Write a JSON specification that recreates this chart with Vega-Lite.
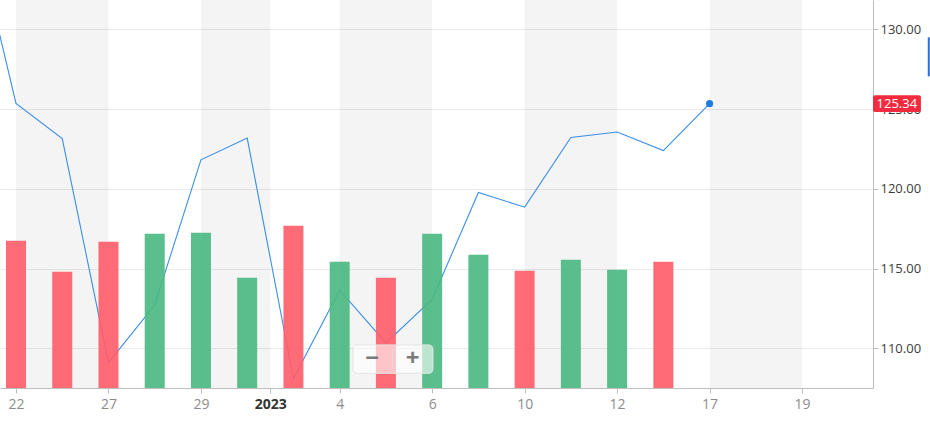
{
  "$schema": "https://vega.github.io/schema/vega-lite/v6.json",
  "width": 873,
  "height": 388,
  "padding": {"left": 0, "top": 0, "right": 57, "bottom": 34},
  "autosize": {"type": "none"},
  "background": "white",
  "config": {"view": {"stroke": null}, "font": "Open Sans", "scale": {"continuousPadding": 0}},
  "datasets": {
    "prices": [
      {"i": -1, "close": 137.57},
      {"i": 0, "close": 125.35},
      {"i": 1, "close": 123.15},
      {"i": 2, "close": 109.10},
      {"i": 3, "close": 112.71},
      {"i": 4, "close": 121.82},
      {"i": 5, "close": 123.18},
      {"i": 6, "close": 108.10},
      {"i": 7, "close": 113.64},
      {"i": 8, "close": 110.34},
      {"i": 9, "close": 113.06},
      {"i": 10, "close": 119.77},
      {"i": 11, "close": 118.85},
      {"i": 12, "close": 123.22},
      {"i": 13, "close": 123.56},
      {"i": 14, "close": 122.40},
      {"i": 15, "close": 125.34}
    ],
    "volume": [
      {"i": 0, "vol": 210.6, "dir": "down"},
      {"i": 1, "vol": 166.3, "dir": "down"},
      {"i": 2, "vol": 209.2, "dir": "down"},
      {"i": 3, "vol": 220.6, "dir": "up"},
      {"i": 4, "vol": 222.1, "dir": "up"},
      {"i": 5, "vol": 157.7, "dir": "up"},
      {"i": 6, "vol": 232.1, "dir": "down"},
      {"i": 7, "vol": 180.6, "dir": "up"},
      {"i": 8, "vol": 157.7, "dir": "down"},
      {"i": 9, "vol": 220.6, "dir": "up"},
      {"i": 10, "vol": 190.6, "dir": "up"},
      {"i": 11, "vol": 167.7, "dir": "down"},
      {"i": 12, "vol": 183.5, "dir": "up"},
      {"i": 13, "vol": 169.2, "dir": "up"},
      {"i": 14, "vol": 180.6, "dir": "down"}
    ],
    "bands": [
      {"s": 0, "e": 2},
      {"s": 4, "e": 5.5},
      {"s": 7, "e": 9},
      {"s": 11, "e": 13},
      {"s": 15, "e": 17}
    ],
    "last": [{"i": 15, "close": 125.34, "label": "125.34"}]
  },
  "resolve": {"scale": {"y": "independent"}},
  "layer": [
    {
      "layer": [
        {
          "data": {"name": "bands"},
          "mark": {"type": "rect", "fill": "#000000", "fillOpacity": 0.042},
          "encoding": {
            "x": {"field": "s", "type": "quantitative", "scale": {"domain": [-0.346, 18.534], "nice": false, "zero": false, "padding": 0},
              "axis": {
                "values": [0, 2, 4, 5.5, 7, 9, 11, 13, 15, 17],
                "labelExpr": "{'0':'22','2':'27','4':'29','5.5':'2023','7':'4','9':'6','11':'10','13':'12','15':'17','17':'19'}[datum.value + '']",
                "grid": false,
                "domainColor": "#bdbdbd",
                "tickColor": "#bdbdbd",
                "tickSize": 5,
                "labelFontSize": 14,
                "labelPadding": 4,
                "labelColor": {"condition": {"test": "datum.value == 5.5", "value": "#333333"}, "value": "#8c8c8c"},
                "labelFontWeight": {"condition": {"test": "datum.value == 5.5", "value": "bold"}, "value": "normal"},
                "labelOverlap": false,
                "labelFlush": false,
                "title": null
              }},
            "x2": {"field": "e"}
          }
        },
        {
          "data": {"name": "prices"},
          "mark": {"type": "line", "stroke": "#3a8ee8", "strokeWidth": 1.1, "clip": true},
          "encoding": {
            "x": {"field": "i", "type": "quantitative", "title": null, "scale": {"domain": [-0.346, 18.534], "nice": false, "zero": false, "padding": 0}},
            "y": {"field": "close", "type": "quantitative", "scale": {"domain": [107.51, 131.84], "nice": false, "zero": false},
              "axis": {
                "orient": "right",
                "values": [110, 115, 120, 125, 130],
                "format": ".2f",
                "grid": true,
                "gridColor": "#ebebeb",
                "domainColor": "#bdbdbd",
                "tickColor": "#bdbdbd",
                "tickSize": 5,
                "labelFontSize": 13,
                "labelColor": "#3c3c3c",
                "labelPadding": 2,
                "title": null
              }}
          }
        }
      ]
    },
    {
      "data": {"name": "volume"},
      "mark": {"type": "bar", "size": 20, "opacity": 0.9},
      "encoding": {
        "x": {"field": "i", "type": "quantitative", "title": null, "scale": {"domain": [-0.346, 18.534], "nice": false, "zero": false, "padding": 0}},
        "y": {"field": "vol", "type": "quantitative", "scale": {"domain": [0, 554.8], "nice": false}, "axis": null},
        "color": {"field": "dir", "type": "nominal", "scale": {"domain": ["down", "up"], "range": ["#ff5c69", "#48b880"]}, "legend": null}
      }
    },
    {
      "layer": [
        {
          "data": {"name": "last"},
          "mark": {"type": "point", "filled": true, "size": 50, "color": "#1e7be6", "opacity": 1},
          "encoding": {
            "x": {"field": "i", "type": "quantitative", "title": null, "scale": {"domain": [-0.346, 18.534], "nice": false, "zero": false, "padding": 0}},
            "y": {"field": "close", "type": "quantitative", "scale": {"domain": [107.51, 131.84], "nice": false, "zero": false}, "axis": null}
          }
        },
        {
          "data": {"name": "last"},
          "mark": {"type": "rect", "fill": "#f42b3e", "cornerRadius": 2},
          "encoding": {
            "x": {"datum": 18.534, "type": "quantitative", "scale": {"domain": [-0.346, 18.534], "nice": false, "zero": false, "padding": 0}},
            "x2": {"datum": 19.57},
            "y": {"datum": 125.87, "type": "quantitative", "scale": {"domain": [107.51, 131.84], "nice": false, "zero": false}},
            "y2": {"datum": 124.81}
          }
        },
        {
          "data": {"name": "last"},
          "mark": {"type": "text", "color": "white", "fontSize": 13, "align": "center", "baseline": "middle"},
          "encoding": {
            "x": {"datum": 19.05, "type": "quantitative", "scale": {"domain": [-0.346, 18.534], "nice": false, "zero": false, "padding": 0}},
            "y": {"field": "close", "type": "quantitative", "scale": {"domain": [107.51, 131.84], "nice": false, "zero": false}},
            "text": {"field": "label"}
          }
        },
        {
          "data": {"values": [{}]},
          "mark": {"type": "rule", "stroke": "#2b6fd6", "strokeWidth": 2},
          "encoding": {
            "x": {"datum": 19.74, "type": "quantitative", "scale": {"domain": [-0.346, 18.534], "nice": false, "zero": false, "padding": 0}},
            "y": {"datum": 129.5, "type": "quantitative", "scale": {"domain": [107.51, 131.84], "nice": false, "zero": false}},
            "y2": {"datum": 127.05}
          }
        },
        {
          "data": {"values": [{}]},
          "mark": {"type": "rect", "fill": "white", "fillOpacity": 0.6, "stroke": "#e4e4e4", "strokeWidth": 1, "cornerRadius": 4},
          "encoding": {
            "x": {"datum": 7.288, "type": "quantitative", "scale": {"domain": [-0.346, 18.534], "nice": false, "zero": false, "padding": 0}},
            "x2": {"datum": 9.018},
            "y": {"datum": 110.21, "type": "quantitative", "scale": {"domain": [107.51, 131.84], "nice": false, "zero": false}},
            "y2": {"datum": 108.43}
          }
        },
        {
          "data": {"values": [{}]},
          "mark": {"type": "rule", "stroke": "#dddddd", "strokeWidth": 1},
          "encoding": {
            "x": {"datum": 8.142, "type": "quantitative", "scale": {"domain": [-0.346, 18.534], "nice": false, "zero": false, "padding": 0}},
            "y": {"datum": 109.98, "type": "quantitative", "scale": {"domain": [107.51, 131.84], "nice": false, "zero": false}},
            "y2": {"datum": 108.66}
          }
        },
        {
          "data": {"values": [{"t": "−", "p": 7.70}, {"t": "+", "p": 8.575}]},
          "mark": {"type": "text", "color": "#7a7a7a", "fontSize": 24, "fontWeight": "bold", "align": "center", "baseline": "middle"},
          "encoding": {
            "x": {"field": "p", "type": "quantitative", "title": null, "scale": {"domain": [-0.346, 18.534], "nice": false, "zero": false, "padding": 0}},
            "y": {"datum": 109.3, "type": "quantitative", "scale": {"domain": [107.51, 131.84], "nice": false, "zero": false}},
            "text": {"field": "t"}
          }
        }
      ]
    }
  ]
}
